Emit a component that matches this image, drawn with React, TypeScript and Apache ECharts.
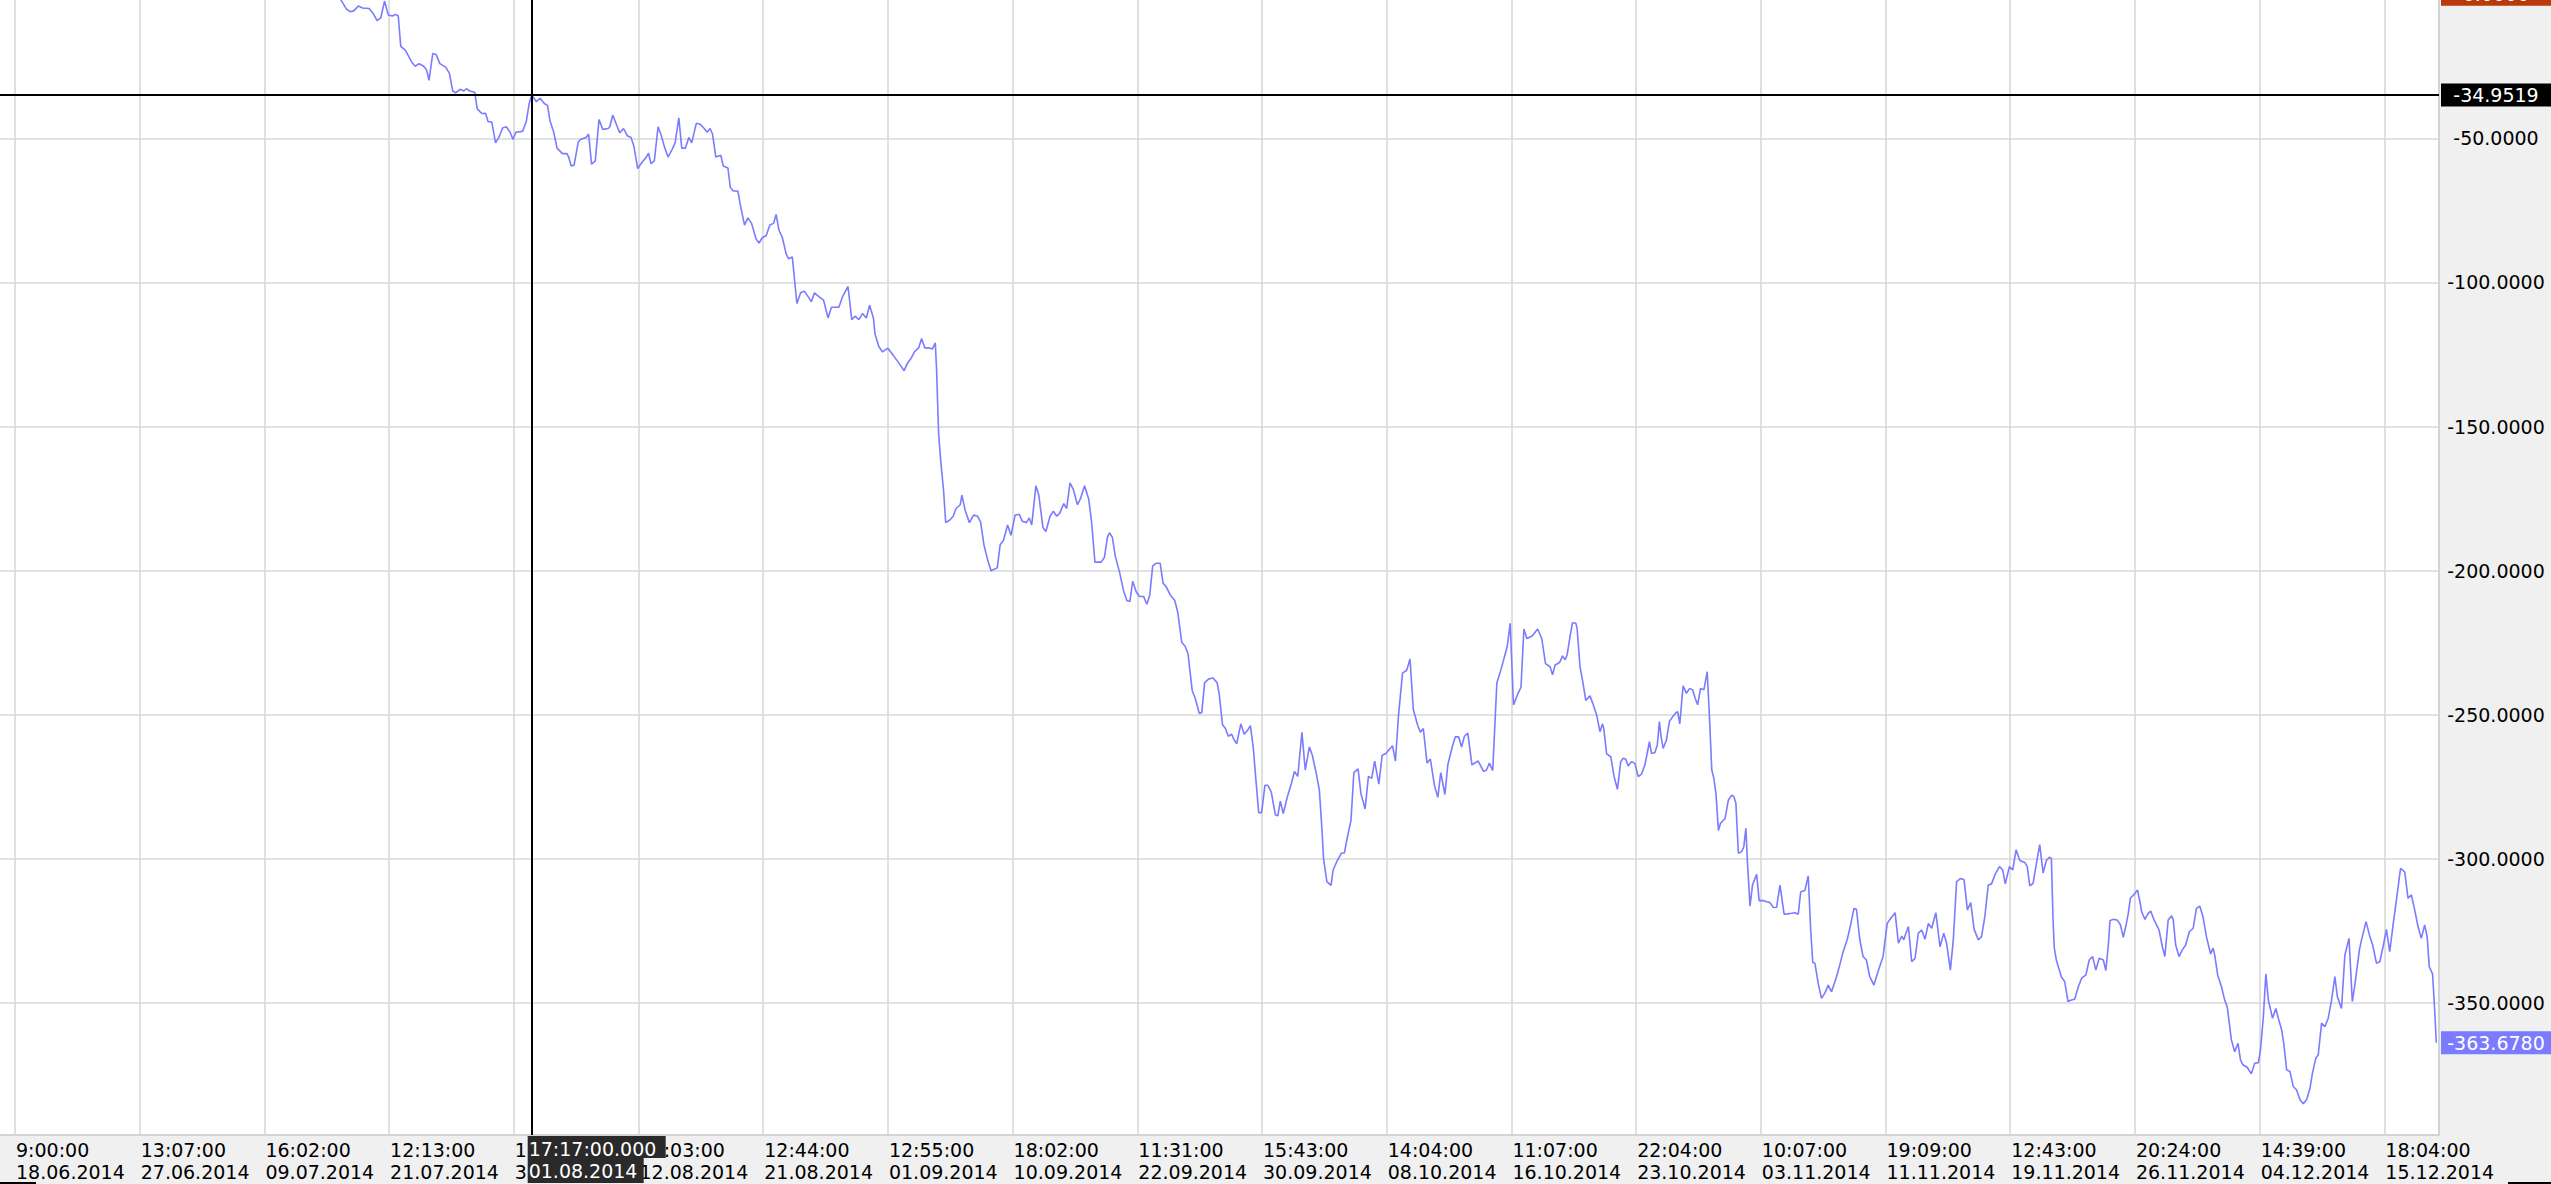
import React, { useEffect, useRef } from "react";
import * as echarts from "echarts";

const FONT = "'DejaVu Sans', Verdana, sans-serif";

// x-axis: bar index (30 bars between labelled gridlines)
const barsPerLabel = 30;
const xLabelTimes = [
  "9:00:00", "13:07:00", "16:02:00", "12:13:00", "16:41:00", "10:03:00", "12:44:00",
  "12:55:00", "18:02:00", "11:31:00", "15:43:00", "14:04:00", "11:07:00", "22:04:00",
  "10:07:00", "19:09:00", "12:43:00", "20:24:00", "14:39:00", "18:04:00",
];
const xLabelDates = [
  "18.06.2014", "27.06.2014", "09.07.2014", "21.07.2014", "31.07.2014", "12.08.2014", "21.08.2014",
  "01.09.2014", "10.09.2014", "22.09.2014", "30.09.2014", "08.10.2014", "16.10.2014", "23.10.2014",
  "03.11.2014", "11.11.2014", "19.11.2014", "26.11.2014", "04.12.2014", "15.12.2014",
];
const yTicks = [-350, -300, -250, -200, -150, -100, -50];

const crossBar = 124.3;
const crossValue = -34.9519;
const crossTime = "17:17:00.000";
const crossDate = "01.08.2014";
const lastValue = -363.678;
const zeroValue = 0;

// [bar index, value]
const segJunAug: [number, number][] = [
  [77.2, 1.5], [78.4, -2.0], [79.7, -5.1], [80.6, -6.1], [81.5, -5.8], [82.6, -4.1], [83.6, -4.8],
  [85.2, -5.0], [86.3, -7.0], [87.1, -9.2], [88.0, -8.2], [88.9, -2.4], [89.8, -7.2], [90.8, -7.6],
  [91.5, -7.0], [92.2, -7.6], [92.8, -18.1], [93.9, -19.4], [95.5, -23.7], [96.3, -25.0], [97.2, -24.1],
  [98.3, -25.0], [99.0, -26.2], [99.6, -29.9], [100.5, -20.6], [101.3, -20.9], [102.2, -24.1],
  [103.6, -25.3], [104.5, -27.4], [105.3, -33.6], [106.0, -34.2], [107.1, -33.0], [108.0, -33.6],
  [108.6, -32.8], [109.4, -33.6], [110.6, -34.0], [111.2, -39.8], [112.3, -41.4], [113.2, -41.3],
  [113.8, -44.2], [114.7, -44.4], [115.6, -51.6], [116.4, -49.7], [117.3, -46.4], [118.2, -46.0],
  [119.1, -47.9], [119.8, -50.4], [120.5, -47.9], [122.1, -47.6], [123.0, -44.2], [123.7, -37.9],
  [124.3, -34.95], [124.7, -35.7], [125.4, -37.3], [126.3, -36.1], [127.4, -38.0], [128.1, -38.6],
  [128.7, -43.9], [129.6, -47.9], [130.4, -53.4], [131.7, -55.3], [132.8, -55.3], [133.2, -56.5],
  [133.8, -59.6], [134.5, -59.3], [135.5, -51.3], [136.1, -50.3], [137.4, -49.7], [138.0, -48.5],
  [138.7, -59.0], [139.6, -57.8], [140.5, -43.5], [141.4, -46.9], [142.7, -46.6], [143.1, -46.0],
  [143.8, -41.9], [144.9, -46.0], [145.5, -48.1], [146.4, -46.6], [147.3, -49.1], [148.2, -49.7],
  [148.9, -52.8], [149.8, -60.5], [150.5, -59.0], [151.9, -56.5], [152.4, -55.1], [153.0, -58.8],
  [153.8, -57.8], [154.7, -46.0], [155.5, -49.1], [156.2, -52.8], [157.1, -56.5], [158.0, -54.1],
  [158.8, -51.6], [159.7, -42.9], [160.4, -53.4], [161.3, -53.4], [162.1, -49.7], [162.8, -51.6],
  [163.9, -44.8], [164.8, -45.1], [165.8, -46.6], [166.5, -47.9], [167.2, -46.6], [167.8, -48.5],
  [168.6, -56.5], [169.8, -55.9], [170.4, -59.6], [171.5, -60.3], [172.1, -67.1], [172.8, -68.3],
  [173.9, -68.3], [174.6, -73.9], [175.5, -80.1], [176.3, -77.6], [177.2, -79.5], [178.3, -85.0],
  [179.0, -86.3], [179.8, -84.4], [180.7, -83.8], [181.6, -80.1], [182.5, -79.5], [183.1, -76.4],
  [183.8, -81.9], [184.6, -84.4], [185.5, -90.0], [186.1, -91.8], [187.0, -91.2], [188.1, -107.3],
  [189.0, -103.6], [189.9, -103.0], [190.8, -104.9], [191.6, -106.7], [192.3, -103.6], [193.4, -104.9],
  [194.5, -106.1], [195.6, -112.3], [196.4, -108.6], [198.2, -108.6], [199.1, -104.9], [200.4, -101.4],
  [201.3, -112.9], [202.1, -111.7], [203.0, -112.9], [203.9, -110.8], [204.8, -112.3], [205.6, -107.9],
  [206.5, -112.3], [206.9, -117.9], [207.8, -122.2], [208.7, -124.1], [210.0, -122.8], [211.3, -125.3],
  [212.9, -128.5],
];

const segSepOct: [number, number][] = [
  [213.9, -130.6], [214.7, -128.0], [215.7, -126.0], [216.4, -124.0], [217.4, -122.7], [218.1, -119.4],
  [218.9, -122.7], [219.9, -122.7], [220.7, -123.1], [221.4, -120.9], [221.7, -130.0], [222.2, -152.5],
  [222.7, -161.8], [223.4, -172.4], [223.9, -183.3], [224.9, -182.4], [225.7, -181.1], [226.4, -178.4],
  [227.4, -177.1], [227.8, -173.8], [228.6, -179.1], [229.6, -183.3], [230.6, -180.7], [231.6, -181.1],
  [232.3, -183.1], [233.1, -191.0], [234.0, -196.3], [234.8, -200.0], [236.3, -199.0], [237.0, -191.0],
  [237.8, -189.4], [238.8, -184.1], [239.6, -187.7], [240.6, -180.7], [241.6, -180.4], [242.3, -182.8],
  [243.3, -183.3], [244.0, -181.7], [244.6, -184.1], [245.6, -170.5], [246.3, -173.8], [247.3, -185.0],
  [248.0, -186.4], [249.0, -181.1], [249.8, -179.3], [250.6, -181.1], [251.3, -180.1], [252.3, -176.7],
  [253.0, -178.4], [253.8, -169.5], [254.6, -171.8], [255.6, -177.1], [256.3, -175.1], [257.3, -170.5],
  [258.3, -175.1], [259.0, -183.1], [259.8, -197.0], [261.3, -197.0], [262.1, -195.3], [262.8, -188.4],
  [263.3, -186.8], [264.0, -188.4], [264.7, -195.0], [265.7, -200.3], [266.7, -207.0], [267.5, -210.3],
  [268.2, -210.7], [268.9, -203.6], [269.7, -207.2], [270.5, -208.9], [271.5, -208.9], [272.3, -211.6],
  [273.0, -208.3], [273.7, -198.3], [274.5, -197.4], [275.5, -197.4], [276.2, -204.3], [276.9, -205.4],
  [277.9, -208.3], [279.0, -210.3], [279.7, -214.2], [280.7, -224.9], [281.5, -226.2], [282.2, -228.8],
  [283.2, -241.5], [283.9, -244.1], [284.9, -249.4], [285.5, -249.2], [286.2, -238.8], [287.2, -237.5],
  [288.2, -237.2], [289.2, -238.8], [289.7, -242.8], [290.5, -253.4], [291.2, -254.7], [291.9, -257.4],
  [292.7, -256.7], [293.2, -258.4], [293.9, -260.0], [294.9, -253.1], [295.7, -256.7], [296.5, -255.4],
  [297.2, -253.7], [297.9, -261.4], [298.5, -272.0], [299.2, -283.9], [299.9, -283.9], [300.7, -274.4],
  [301.4, -274.4], [302.2, -276.6], [303.2, -284.6], [303.8, -285.0], [304.4, -279.9], [305.1, -284.2],
  [306.1, -278.4], [307.1, -273.6], [307.8, -269.6], [308.6, -271.3], [309.6, -256.0], [310.4, -269.1],
  [311.4, -261.1], [312.1, -264.0], [313.1, -270.6], [313.8, -276.2], [314.4, -289.2], [314.8, -299.8],
  [315.6, -307.8], [316.6, -309.1], [317.1, -303.8], [318.1, -300.5], [319.1, -297.9], [319.8, -297.9],
  [320.6, -291.9], [321.4, -286.6], [322.1, -270.0], [323.1, -268.7], [323.8, -277.3], [324.8, -282.6],
  [325.6, -271.3], [326.4, -272.0], [327.1, -266.0], [327.6, -270.0], [328.1, -274.0], [328.9, -264.0],
  [329.8, -263.4], [330.6, -262.0], [331.4, -260.7], [332.1, -266.0], [332.8, -250.7], [333.8, -235.5],
  [334.8, -234.5], [335.6, -230.6], [336.4, -248.1], [337.4, -253.4], [338.1, -256.0], [338.8, -254.7],
  [339.7, -266.7], [340.5, -265.3], [341.5, -274.6], [342.3, -278.6], [343.0, -270.0], [344.0, -277.6],
  [344.7, -267.3], [345.7, -261.4], [346.5, -257.6], [347.3, -257.6], [348.0, -261.1], [348.7, -257.4],
  [349.5, -256.3], [350.5, -267.3], [352.0, -266.0], [353.3, -269.6], [354.0, -269.1], [354.7, -266.7],
  [355.5, -269.3], [356.5, -238.8], [357.5, -234.2], [359.0, -226.2], [359.7, -218.2], [360.5, -246.5],
  [361.5, -242.8], [362.3, -240.4], [363.0, -220.2], [363.7, -223.5], [365.0, -222.6], [366.3, -220.2],
  [367.3, -223.5], [368.2, -232.2], [369.3, -233.3],
];

const segOctNov: [number, number][] = [
  [369.9, -236.1], [370.5, -232.7], [371.3, -232.1], [371.7, -231.5], [372.3, -229.5], [372.9, -230.9],
  [373.4, -229.2], [374.1, -222.8], [374.7, -218.0], [375.5, -218.2], [375.8, -220.0], [376.5, -233.3],
  [377.1, -237.9], [377.9, -245.0], [378.9, -243.4], [379.7, -246.5], [380.5, -250.0], [381.3, -255.8],
  [381.9, -253.1], [382.2, -254.6], [382.9, -263.5], [383.9, -264.5], [384.7, -271.4], [385.5, -275.8],
  [386.3, -266.2], [386.9, -265.0], [387.5, -265.4], [388.1, -267.7], [388.9, -266.2], [389.7, -266.8],
  [390.5, -271.4], [391.3, -270.5], [392.1, -267.4], [393.2, -259.3], [393.7, -263.3], [394.5, -263.1],
  [395.1, -260.4], [395.6, -252.3], [396.0, -257.5], [396.5, -261.6], [397.3, -258.7], [398.0, -252.3],
  [398.8, -250.6], [399.6, -249.2], [400.0, -248.9], [400.5, -253.1], [401.3, -239.9], [402.1, -242.5],
  [402.9, -240.8], [403.6, -241.3], [404.2, -244.2], [404.8, -246.5], [405.5, -240.8], [406.3, -241.3],
  [407.1, -235.0], [407.6, -249.4], [408.2, -269.1], [408.7, -272.0], [409.2, -277.2], [409.8, -290.1],
  [410.3, -287.6], [411.4, -285.9], [412.2, -279.5], [413.0, -277.8], [413.5, -278.3], [414.0, -280.6],
  [414.6, -298.0], [415.4, -297.4], [415.9, -295.7], [416.4, -289.3], [416.8, -301.5], [417.4, -316.3],
  [418.0, -309.0], [418.6, -306.7], [419.0, -305.3], [419.6, -314.4], [420.6, -314.4], [421.4, -314.8],
  [422.2, -315.1], [423.0, -316.8], [423.8, -316.7], [424.6, -309.0], [425.0, -313.0], [425.6, -319.1],
  [426.4, -319.0], [427.4, -318.8], [428.2, -318.6], [429.0, -319.1], [429.6, -311.3], [430.6, -310.9],
  [431.4, -305.8], [432.0, -324.6], [432.5, -335.9], [433.0, -336.1], [433.8, -343.1], [434.6, -348.3],
  [435.4, -346.5], [436.2, -343.7], [437.0, -346.0], [438.1, -341.3], [439.0, -336.7], [439.8, -332.1],
  [440.8, -327.8], [441.6, -322.8], [442.4, -317.1], [443.0, -317.4], [443.8, -327.8], [444.6, -333.8],
  [445.4, -335.0], [446.2, -340.8], [447.2, -343.7], [448.2, -339.0], [449.4, -333.8], [450.4, -322.3],
  [451.1, -320.9], [452.3, -318.6], [453.1, -329.2], [453.9, -326.7], [454.4, -328.0], [454.9, -325.7],
  [455.5, -323.4], [456.3, -335.6], [457.1, -334.4], [457.9, -325.7], [458.7, -324.6], [459.5, -327.8],
  [460.3, -322.3], [461.1, -324.0], [462.1, -318.6], [463.1, -330.4], [464.0, -325.7], [464.7, -329.2],
  [465.6, -338.5], [466.3, -328.0], [467.1, -307.8], [468.1, -306.7], [468.9, -307.2], [469.7, -317.6],
  [470.5, -315.1], [471.3, -324.3], [472.3, -328.0], [473.1, -326.9], [473.9, -319.9], [474.7, -309.0],
  [475.5, -308.6], [476.3, -305.5], [477.4, -302.6], [478.2, -303.8], [478.8, -308.6], [479.8, -302.6],
  [480.6, -303.8], [481.4, -296.8], [482.3, -300.5], [483.5, -301.2], [484.1, -302.6], [484.7, -309.3],
  [485.5, -308.4], [486.3, -301.5], [487.1, -295.0], [487.9, -304.8], [488.7, -300.5], [489.4, -299.4],
];

const segDec: [number, number][] = [
  [489.9, -299.7], [490.3, -321.1], [490.6, -330.9], [491.1, -335.0], [491.8, -338.5], [492.3, -340.8],
  [493.1, -342.5], [493.9, -349.4], [494.7, -348.9], [495.5, -348.6], [496.4, -344.2], [497.2, -341.3],
  [498.2, -340.2], [499.0, -335.0], [499.8, -333.8], [500.6, -338.5], [501.4, -334.4], [502.4, -335.0],
  [503.0, -338.7], [503.6, -329.8], [504.0, -321.3], [504.9, -320.9], [505.7, -321.1], [506.5, -322.8],
  [507.2, -327.1], [507.8, -323.4], [508.4, -318.8], [508.9, -313.6], [510.0, -311.9], [510.6, -310.7],
  [511.2, -314.8], [511.6, -318.2], [512.4, -320.9], [513.2, -318.8], [513.8, -318.0], [514.6, -321.1],
  [515.2, -322.8], [515.8, -324.6], [516.6, -330.4], [517.2, -333.8], [518.0, -321.1], [518.8, -319.7],
  [519.2, -320.9], [519.8, -329.8], [520.6, -333.8], [521.4, -331.5], [522.2, -329.8], [523.1, -325.2],
  [524.0, -324.0], [524.8, -317.1], [525.6, -316.3], [526.4, -320.2], [527.2, -326.9], [528.2, -332.9],
  [528.8, -330.9], [529.2, -333.3], [529.9, -340.2], [530.8, -344.2], [531.6, -348.9], [532.2, -351.2],
  [532.7, -356.9], [533.2, -362.7], [534.0, -366.8], [534.8, -363.9], [535.4, -369.7], [536.0, -371.4],
  [537.0, -372.2], [538.0, -374.5], [538.8, -370.8], [539.7, -370.6], [540.2, -366.2], [540.9, -354.6],
  [541.5, -339.8], [542.1, -348.9], [543.1, -355.2], [543.9, -351.8], [544.5, -355.2], [545.3, -359.3],
  [545.8, -363.9], [546.5, -373.1], [547.3, -373.7], [548.1, -378.9], [548.9, -380.1], [549.7, -383.5],
  [550.5, -384.9], [551.3, -383.5], [552.1, -379.5], [552.7, -374.3], [553.5, -369.1], [554.1, -367.9],
  [554.9, -356.9], [555.7, -358.1], [556.5, -355.2], [557.3, -348.9], [558.1, -340.8], [558.7, -347.7],
  [559.7, -351.8], [560.5, -333.3], [561.5, -327.5], [562.3, -349.4], [562.9, -343.7], [564.0, -331.5],
  [564.5, -328.1], [565.6, -321.7], [566.4, -326.3], [567.2, -329.8], [568.1, -336.1], [568.9, -335.6],
  [569.7, -330.4], [570.5, -324.4], [571.3, -332.1], [572.1, -322.8], [572.9, -314.2], [573.9, -303.2],
  [574.9, -304.4], [575.7, -313.6], [576.5, -312.4], [577.3, -317.6], [578.1, -323.4], [578.9, -327.5],
  [579.7, -322.8], [580.3, -326.9], [580.8, -337.3], [581.6, -339.8], [582.1, -352.0], [582.5, -363.678],
];

const lineData = [...segJunAug, ...segSepOct, ...segOctNov, ...segDec];
const xTickValues = xLabelTimes.map((_, i) => i * barsPerLabel);

const LINE_COLOR = "#7b7bff";
const GRID_COLOR = "#d9d9d9";
const BAND_COLOR = "#f0f0f0";
const SEP_COLOR = "#d3d3d3";

export default function App() {
  const ref = useRef<HTMLDivElement>(null);

  useEffect(() => {
    if (!ref.current) return;
    const chart = echarts.init(ref.current, undefined, { renderer: "svg" });
    chart.setOption({
      animation: false,
      backgroundColor: BAND_COLOR,
      textStyle: { fontFamily: FONT },
      grid: { left: 0, right: 112, top: 0, bottom: 49, show: true, backgroundColor: "#ffffff", borderWidth: 0 },
      xAxis: {
        type: "value",
        min: -3.61,
        max: 583.15,
        axisLine: { show: true, onZero: false, lineStyle: { color: SEP_COLOR, width: 2 } },
        axisTick: { show: false, customValues: xTickValues },
        axisLabel: {
          customValues: xTickValues,
          formatter: (v: number) => {
            const i = Math.round(v / barsPerLabel);
            return `${xLabelTimes[i]}\n${xLabelDates[i]}`;
          },
          align: "left",
          verticalAlign: "top",
          margin: 4,
          padding: [0, 0, 0, 1],
          fontFamily: FONT,
          fontSize: 19,
          lineHeight: 22,
          color: "#000",
        },
        splitLine: { show: true, lineStyle: { color: GRID_COLOR, width: 1.6 } },
      },
      yAxis: {
        type: "value",
        position: "right",
        min: -395.7,
        max: -2.03,
        axisLine: { show: true, onZero: false, lineStyle: { color: SEP_COLOR, width: 2 } },
        axisTick: { show: false, customValues: yTicks },
        axisLabel: {
          customValues: yTicks,
          formatter: (v: number) => v.toFixed(4),
          align: "center",
          verticalAlign: "middle",
          margin: 57,
          fontFamily: FONT,
          fontSize: 19,
          color: "#000",
        },
        splitLine: { show: true, lineStyle: { color: GRID_COLOR, width: 1.6 } },
      },
      series: [
        {
          type: "line",
          data: lineData,
          showSymbol: false,
          symbol: "none",
          lineStyle: { color: LINE_COLOR, width: 1.6 },
          markLine: {
            silent: true,
            symbol: ["none", "none"],
            label: { show: false },
            lineStyle: { color: "#000", width: 2, type: "solid" },
            data: [{ xAxis: crossBar }, { yAxis: crossValue }],
          },
        },
      ],
    });

    const yPix = (v: number) => chart.convertToPixel({ yAxisIndex: 0 }, v) as number;
    const xPix = (v: number) => chart.convertToPixel({ xAxisIndex: 0 }, v) as number;
    const bandLeft = 2441;
    const bandW = 110;
    const boxH = 23;
    const valueBox = (v: number, text: string, fill: string) => ({
      type: "group",
      z: 100,
      children: [
        { type: "rect", z: 100, shape: { x: bandLeft, y: yPix(v) - boxH / 2, width: bandW, height: boxH }, style: { fill } },
        {
          type: "text",
          z: 101,
          style: {
            text, x: bandLeft + bandW / 2, y: yPix(v), fill: "#fff",
            fontFamily: FONT, fontSize: 19, align: "center", verticalAlign: "middle",
          },
        },
      ],
    });
    const cx = xPix(crossBar);
    const axisTop = 1136;
    chart.setOption({
      graphic: [
        valueBox(zeroValue, zeroValue.toFixed(4), "#b83a0a"),
        valueBox(crossValue, crossValue.toFixed(4), "#000"),
        valueBox(lastValue, lastValue.toFixed(4), LINE_COLOR),
        {
          type: "group",
          z: 100,
          children: [
            { type: "rect", z: 100, shape: { x: cx - 4, y: axisTop, width: 138, height: 22 }, style: { fill: "#2a2a2a" } },
            { type: "rect", z: 100, shape: { x: cx - 4, y: axisTop + 22, width: 116, height: 25 }, style: { fill: "#2a2a2a" } },
            {
              type: "text",
              z: 101,
              style: { text: crossTime, x: cx - 3, y: axisTop + 13, fill: "#fff", fontFamily: FONT, fontSize: 19, align: "left", verticalAlign: "middle" },
            },
            {
              type: "text",
              z: 101,
              style: { text: crossDate, x: cx - 3, y: axisTop + 35, fill: "#fff", fontFamily: FONT, fontSize: 19, align: "left", verticalAlign: "middle" },
            },
          ],
        },
        { type: "line", z: 100, shape: { x1: 0, y1: 1183, x2: 36, y2: 1183 }, style: { stroke: "#000", lineWidth: 2 } },
        { type: "line", z: 100, shape: { x1: 2508, y1: 1183, x2: 2551, y2: 1183 }, style: { stroke: "#000", lineWidth: 2 } },
      ],
    });

    return () => chart.dispose();
  }, []);

  return (
    <div
      ref={ref}
      style={{ position: "absolute", left: 0, top: 0, width: 2551, height: 1184, background: BAND_COLOR }}
    />
  );
}
